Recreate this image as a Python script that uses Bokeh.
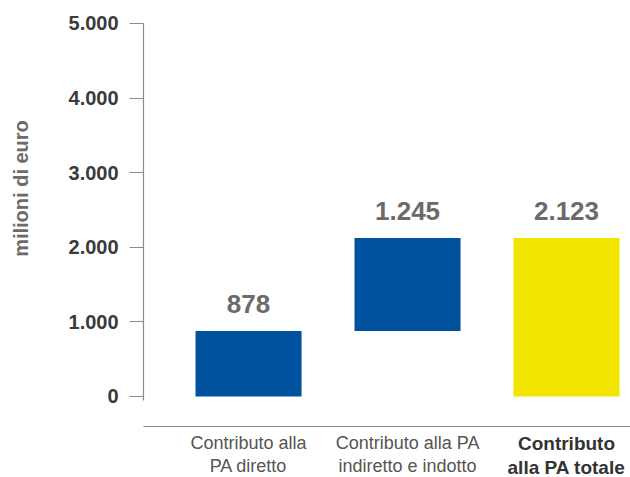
from math import pi
from bokeh.plotting import figure
from bokeh.models import FixedTicker, Range1d, LinearAxis
from bokeh.core.properties import value
from bokeh.embed import file_html
from bokeh.resources import INLINE

# ---- data ----
categories = ["Contributo alla\nPA diretto",
              "Contributo alla PA\nindiretto e indotto",
              "Contributo\nalla PA totale"]
bar_bottoms = [0, 878, 0]
bar_tops = [878, 2123, 2123]
value_labels = ["878", "1.245", "2.123"]
bar_colors = ["#00529e", "#00529e", "#f2e500"]
tick_values = [0, 1000, 2000, 3000, 4000, 5000]
tick_labels = ["0", "1.000", "2.000", "3.000", "4.000", "5.000"]
y_title = "milioni di euro"

FONT = "Liberation Sans"
xs = list(range(len(categories)))

# layout constants (data units of the frame)
X0, X1 = -1.560, 2.4025
Y0, Y1 = -1086, 5308
AXIS_X = -0.660
AXIS_Y = -402

p = figure(width=630, height=477, output_backend="svg", toolbar_location=None,
           x_range=Range1d(X0, X1), y_range=Range1d(Y0, Y1),
           x_axis_location=None, y_axis_location=None,
           min_border_left=0, min_border_right=0,
           min_border_top=0, min_border_bottom=0)
p.outline_line_color = None
p.xgrid.visible = False
p.ygrid.visible = False
p.background_fill_color = "white"
p.border_fill_color = "white"

# y axis (inside frame at fixed location)
ax = LinearAxis(fixed_location=AXIS_X)
ax.ticker = FixedTicker(ticks=tick_values)
ax.major_label_overrides = {v: l for v, l in zip(tick_values, tick_labels)}
ax.bounds = (-60, 5000)
ax.axis_line_color = "#8c8c8c"
ax.axis_line_width = 1.2
ax.major_tick_line_color = "#8c8c8c"
ax.major_tick_line_width = 1.2
ax.major_tick_in = 0
ax.major_tick_out = 14
ax.minor_tick_in = 0
ax.minor_tick_out = 0
ax.major_label_standoff = 11
ax.major_label_text_font = FONT
ax.major_label_text_font_style = "bold"
ax.major_label_text_font_size = "20px"
ax.major_label_text_color = "#3a3a3a"
p.add_layout(ax, "left")

# x axis line (inside frame at fixed location)
bx = LinearAxis(fixed_location=AXIS_Y)
bx.ticker = FixedTicker(ticks=[])
bx.bounds = (AXIS_X, X1)
bx.axis_line_color = "#8c8c8c"
bx.axis_line_width = 1.2
bx.major_tick_in = 0
bx.major_tick_out = 0
bx.minor_tick_in = 0
bx.minor_tick_out = 0
bx.major_label_text_font_size = "0px"
p.add_layout(bx, "below")

# bars
p.vbar(x=xs, bottom=bar_bottoms, top=bar_tops, width=0.667, fill_color=bar_colors,
       line_color=None)

# value labels
p.text(x=xs, y=bar_tops, text=value_labels, y_offset=-27,
       text_align="center", text_baseline="middle",
       text_font=value(FONT), text_font_style="bold", text_font_size="26px",
       text_color="#6b6b6b")

# category labels
p.text(x=xs[:2], y=[0, 0], text=categories[:2], y_offset=37,
       text_align="center", text_baseline="top", text_line_height=1.15,
       text_font=value(FONT), text_font_size="18px", text_color="#555555")
p.text(x=xs[2:], y=[0], text=categories[2:], y_offset=37,
       text_align="center", text_baseline="top", text_line_height=1.1,
       text_font=value(FONT), text_font_style="bold", text_font_size="19px",
       text_color="#333333")

# y title
p.text(x=[-1.434], y=[2788], text=[y_title], angle=pi / 2,
       text_align="center", text_baseline="middle",
       text_font=value(FONT), text_font_style="bold", text_font_size="20px",
       text_color="#6b6b6b")

open("out.html", "w").write(file_html(p, INLINE))
